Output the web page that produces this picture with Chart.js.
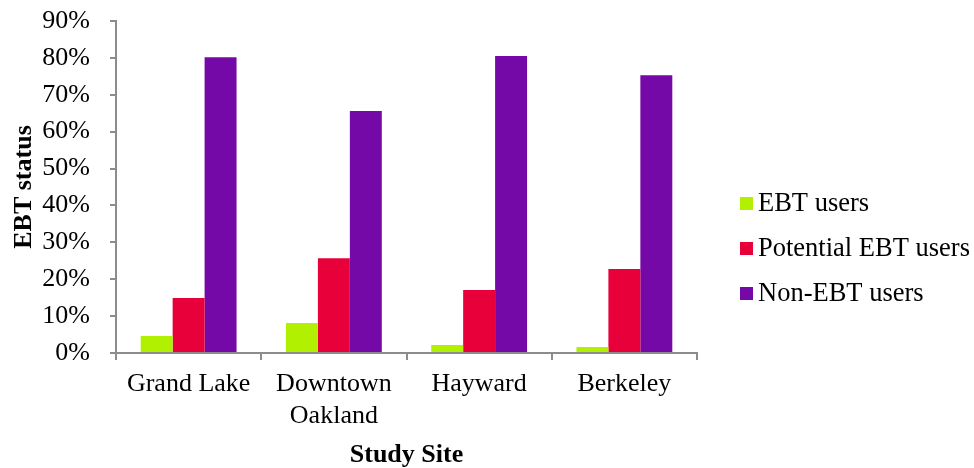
<!DOCTYPE html>
<html>
<head>
<meta charset="utf-8">
<script src="https://cdn.jsdelivr.net/npm/chart.js@4.4.1/dist/chart.umd.min.js"></script>
<style>
  html, body { margin: 0; padding: 0; background: #fff; }
  #wrap { width: 974px; height: 468px; }
</style>
</head>
<body>
<div id="wrap"><canvas id="grafico" width="974" height="468"></canvas></div>
<script>
const sitios = ['Grand Lake', ['Downtown', 'Oakland'], 'Hayward', 'Berkeley'];
const usuariosEBT = [4.6, 8.1, 2.2, 1.6];
const potencialesEBT = [14.9, 25.7, 17.1, 22.8];
const noEBT = [80.2, 65.6, 80.5, 75.3];
const ticksY = [0, 10, 20, 30, 40, 50, 60, 70, 80, 90];

const fuente = "'Liberation Serif', 'Times New Roman', serif";
const gris = '#8c8c8c';

// leyenda dibujada a mano a la derecha
const leyenda = {
    id: 'leyenda',
    afterDraw(chart) {
        const c = chart.ctx;
        const x = 740;
        let y = 203;
        c.save();
        c.font = '26.5px ' + fuente;
        c.textBaseline = 'middle';
        chart.data.datasets.forEach(ds => {
            c.fillStyle = ds.backgroundColor;
            c.fillRect(x, y - 6, 13, 13);
            c.fillStyle = '#000';
            c.fillText(ds.label, x + 18, y + 1);
            y += 45;
        });
        c.restore();
    }
};

new Chart(document.getElementById('grafico').getContext('2d'), {
    type: 'bar',
    data: {
        labels: sitios,
        datasets: [{
            label: 'EBT users',
            data: usuariosEBT,
            backgroundColor: '#B0F000'
        }, {
            label: 'Potential EBT users',
            data: potencialesEBT,
            backgroundColor: '#E8003A'
        }, {
            label: 'Non-EBT users',
            data: noEBT,
            backgroundColor: '#7509A8'
        }]
    },
    options: {
        responsive: false,
        animation: false,
        layout: { padding: { top: 21, right: 277, bottom: 0, left: 0 } },
        datasets: { bar: { barPercentage: 1, categoryPercentage: 0.66 } },
        plugins: {
            legend: { display: false },
            tooltip: { enabled: false }
        },
        scales: {
            x: {
                grid: { drawOnChartArea: false, drawTicks: true, tickLength: 7, color: gris, lineWidth: 2 },
                border: { color: gris, width: 2 },
                ticks: { color: '#000', font: { family: fuente, size: 26 }, padding: 9, maxRotation: 0, autoSkip: false },
                title: { display: true, text: 'Study Site', color: '#000', font: { family: fuente, size: 26, weight: 'bold', lineHeight: 1 }, padding: 0 },
                afterFit(scale) { scale.height = 115; scale.paddingLeft = 0; scale.paddingRight = 0; }
            },
            y: {
                min: 0,
                max: 90,
                afterBuildTicks(scale) { scale.ticks = ticksY.map(v => ({ value: v })); },
                grid: { drawOnChartArea: false, drawTicks: true, tickLength: 6, color: gris, lineWidth: 2 },
                border: { color: gris, width: 2 },
                ticks: { color: '#000', font: { family: fuente, size: 26 }, padding: 20, callback: v => v + '%' },
                title: { display: true, text: 'EBT status', color: '#000', font: { family: fuente, size: 26, weight: 'bold', lineHeight: 1 }, padding: { top: 11, bottom: 0 } },
                afterFit(scale) { scale.width = 116; scale.paddingTop = 0; scale.paddingBottom = 0; }
            }
        }
    },
    plugins: [leyenda]
});
</script>
</body>
</html>
